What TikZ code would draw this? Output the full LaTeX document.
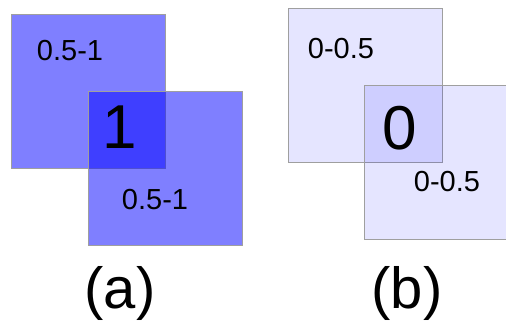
\documentclass[tikz,border=0pt]{standalone}
\usepackage{fontspec}
\setmainfont{Liberation Sans}
\begin{document}
\begin{tikzpicture}
    [
    x=1pt,y=-1pt,
    tile/.style={rectangle,draw=gray!75,line width=0.8pt,fill=blue,inner sep=0pt,minimum size=154pt},
    full/.style={tile,fill opacity=0.5},
    faint/.style={tile,fill opacity=0.1},
    bounds/.style={font=\fontsize{29}{29}\selectfont,inner sep=0pt},
    value/.style={font=\fontsize{62}{62}\selectfont,inner sep=0pt},
    caption/.style={font=\fontsize{58}{58}\selectfont,inner sep=0pt}
    ]
    \useasboundingbox (0,0) rectangle (506,327);
    \clip (0,0) rectangle (506,327);
    \node (a1) at (88,91.5) [full] {};
    \node (a2) at (165,168.5) [full] {};
    \node (b1) at (365,85.5) [faint] {};
    \node (b2) at (441,162) [faint] {};
    \node (a1t) at (70,51) [bounds] {0.5-1};
    \node (a2t) at (155,200) [bounds] {0.5-1};
    \node (a0) at (120,127) [value] {1};
    \node (b1t) at (341,49) [bounds] {0-0.5};
    \node (b2t) at (447,182) [bounds] {0-0.5};
    \node (b0) at (400,128) [value] {0};
    \node (capa) at (120,293) [caption] {(a)};
    \node (capb) at (407,293) [caption] {(b)};
  \end{tikzpicture}
\end{document}
